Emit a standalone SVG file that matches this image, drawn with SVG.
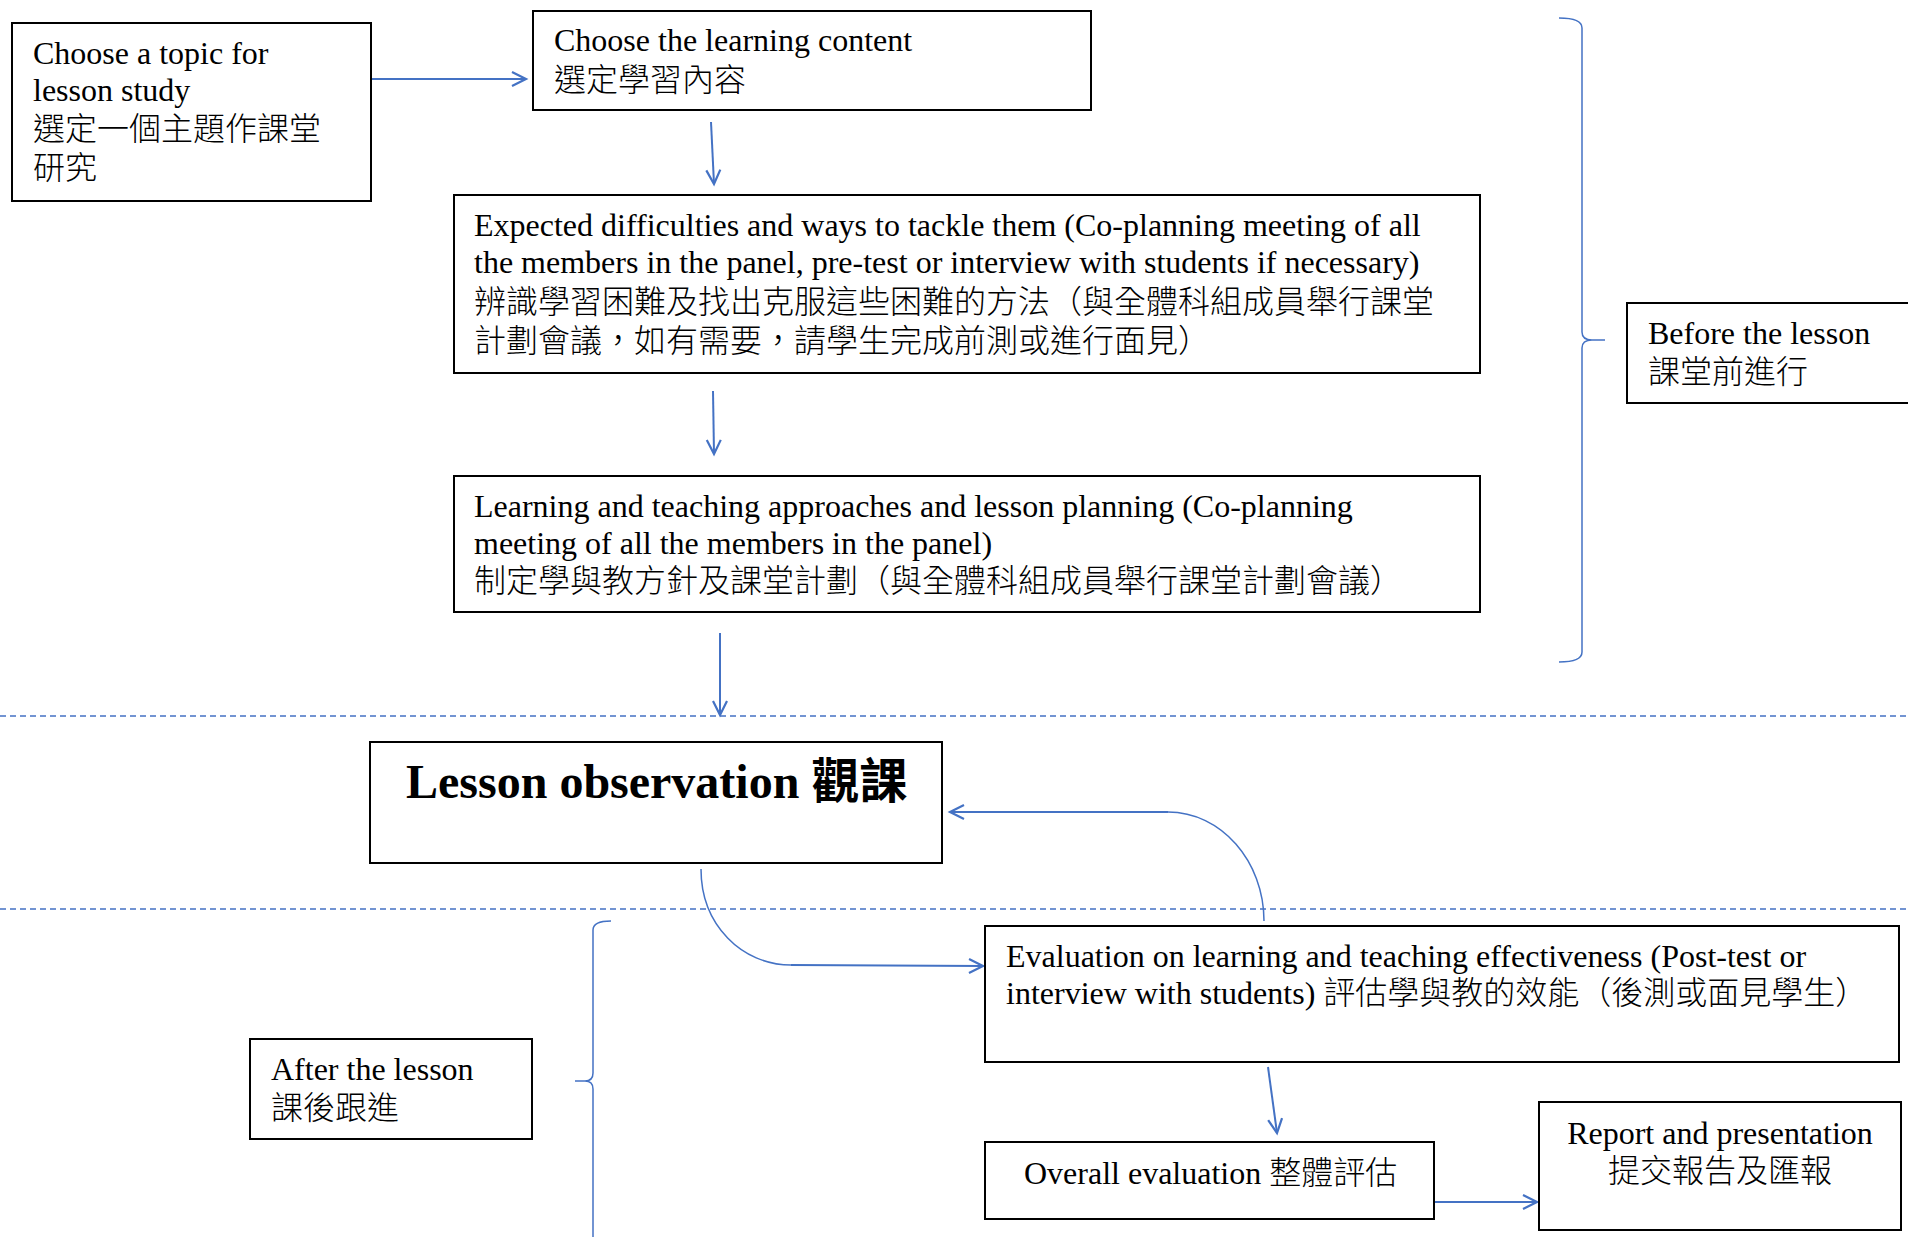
<svg xmlns="http://www.w3.org/2000/svg" width="1908" height="1237" viewBox="0 0 1908 1237">
<style>
.box{fill:#fff;stroke:#000;stroke-width:2}
.t{font-family:"Liberation Serif","Noto Sans CJK TC",serif;font-size:32px;fill:#000}
.z{font-weight:300}
.b{font-weight:bold;font-size:48px}
.c{fill:none;stroke:#4472C4;stroke-width:2}
.thin{fill:none;stroke:#4472C4;stroke-width:1.5}
.dash{fill:none;stroke:#4472C4;stroke-width:1.5;stroke-dasharray:6 4}
</style>
<defs>
<marker id="ah" markerUnits="userSpaceOnUse" markerWidth="20" markerHeight="20" refX="15" refY="8" orient="auto" viewBox="0 0 20 16">
<path d="M1,1 L15,8 L1,15" fill="none" stroke="#4472C4" stroke-width="2.2"/>
</marker>
</defs>
<rect width="1908" height="1237" fill="#fff"/>
<g id="separators">
<line class="dash" x1="0" y1="716" x2="1908" y2="716"/>
<line class="dash" x1="0" y1="909" x2="1908" y2="909"/>
</g>
<g id="connectors">
<line class="c" x1="372" y1="79" x2="526" y2="79" marker-end="url(#ah)"/>
<line class="c" x1="711" y1="122" x2="714" y2="184" marker-end="url(#ah)"/>
<line class="c" x1="713" y1="391" x2="714" y2="454" marker-end="url(#ah)"/>
<line class="c" x1="720" y1="633" x2="720" y2="715" marker-end="url(#ah)"/>
<path class="thin" d="M701,869 C701,925 742,965 791,965"/>
<line class="c" x1="791" y1="965" x2="983" y2="966" marker-end="url(#ah)"/>
<path class="thin" d="M1264,921 C1264,861 1221,812 1168,812"/>
<line class="c" x1="1168" y1="812" x2="950" y2="812" stroke-width="2.5" marker-end="url(#ah)"/>
<line class="c" x1="1268" y1="1067" x2="1277" y2="1133" marker-end="url(#ah)"/>
<line class="c" x1="1434" y1="1202" x2="1537" y2="1202" stroke-width="2.5" marker-end="url(#ah)"/>
</g>
<g id="brace-before">
<path class="thin" d="M1559,18 Q1582,18 1582,28 V332 Q1582,340 1592,340 H1605 M1592,340 Q1582,340 1582,348 V652 Q1582,662 1559,662"/>
</g>
<g id="brace-after">
<path class="thin" d="M611,921 Q593,921 593,930 V1073 Q593,1081 585,1081 H575 M585,1081 Q593,1081 593,1089 V1240"/>
</g>
<g id="node-topic">
<rect class="box" x="12" y="23" width="359" height="178"/>
<text class="t" x="33" y="64">Choose a topic for</text>
<text class="t" x="33" y="101">lesson study</text>
<text class="t z" x="33" y="140">選定一個主題作課堂</text>
<text class="t z" x="33" y="179">研究</text>
</g>
<g id="node-content">
<rect class="box" x="533" y="11" width="558" height="99"/>
<text class="t" x="554" y="51">Choose the learning content</text>
<text class="t z" x="554" y="91">選定學習內容</text>
</g>
<g id="node-difficulties">
<rect class="box" x="454" y="195" width="1026" height="178"/>
<text class="t" x="474" y="236">Expected difficulties and ways to tackle them (Co-planning meeting of all</text>
<text class="t" x="474" y="273">the members in the panel, pre-test or interview with students if necessary)</text>
<text class="t z" x="474" y="313">辨識學習困難及找出克服這些困難的方法（與全體科組成員舉行課堂</text>
<text class="t z" x="474" y="352">計劃會議，如有需要，請學生完成前測或進行面見）</text>
</g>
<g id="node-approaches">
<rect class="box" x="454" y="476" width="1026" height="136"/>
<text class="t" x="474" y="517">Learning and teaching approaches and lesson planning (Co-planning</text>
<text class="t" x="474" y="554">meeting of all the members in the panel)</text>
<text class="t z" x="474" y="592">制定學與教方針及課堂計劃（與全體科組成員舉行課堂計劃會議）</text>
</g>
<g id="node-observation">
<rect class="box" x="370" y="742" width="572" height="121"/>
<text class="t b" x="406" y="798">Lesson observation 觀課</text>
</g>
<g id="node-before">
<rect class="box" x="1627" y="303" width="300" height="100"/>
<text class="t" x="1648" y="344">Before the lesson</text>
<text class="t z" x="1648" y="383">課堂前進行</text>
</g>
<g id="node-after">
<rect class="box" x="250" y="1039" width="282" height="100"/>
<text class="t" x="271" y="1080">After the lesson</text>
<text class="t z" x="271" y="1119">課後跟進</text>
</g>
<g id="node-evaluation">
<rect class="box" x="985" y="926" width="914" height="136"/>
<text class="t" x="1006" y="967">Evaluation on learning and teaching effectiveness (Post-test or</text>
<text class="t" x="1006" y="1004">interview with students) <tspan class="z">評估學與教的效能（後測或面見學生）</tspan></text>
</g>
<g id="node-overall">
<rect class="box" x="985" y="1142" width="449" height="77"/>
<text class="t" x="1024" y="1184">Overall evaluation <tspan class="z">整體評估</tspan></text>
</g>
<g id="node-report">
<rect class="box" x="1539" y="1102" width="362" height="128"/>
<text class="t" x="1720" y="1144" text-anchor="middle">Report and presentation</text>
<text class="t z" x="1720" y="1182" text-anchor="middle">提交報告及匯報</text>
</g>
</svg>
